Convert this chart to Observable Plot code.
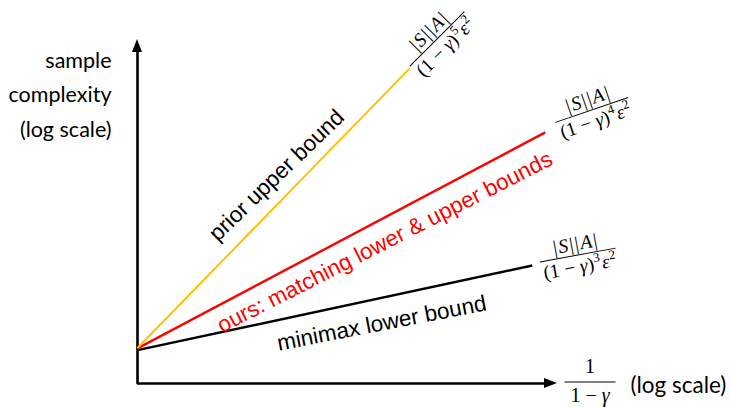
<!DOCTYPE html>
<html><head><meta charset="utf-8">
<script src="https://cdn.jsdelivr.net/npm/d3@7"></script>
<script src="https://cdn.jsdelivr.net/npm/@observablehq/plot@0.6"></script>
<style>body{margin:0;background:#fff}</style>
</head><body><div id="chart"></div>
<script>
// ---- data ----
const series = ["minimax lower bound", "ours: matching lower & upper bounds", "prior upper bound"];
const startX = [0, 0, 0];
const startY = [0.97, 1.02, 1.03];
const endX = [9.4, 9.71, 6.48];
const endY = [3.43, 7.3, 9.16];
const exponents = ["3", "4", "5"];
const labelAt = [0.606, 0.582, 0.566];
const xDomain = [0, 10];
const yDomain = [0, 10];
const yLabelText = "sample\ncomplexity\n(log scale)";
const xLabelText = "(log scale)";

// ---- styles ----
const colors = ["#000000", "#ff0000", "#ffc000"];
const widths = [2.4, 2.4, 2];
const textRot = [-11, -27, -44];
const textDx = [5, 10, -15];
const textDy = [24.5, 19.5, -14.5];
const fracRot = [-10.3, -18.9, -45];
const fracDx = [46, 47, 28];
const fracDy = [-10, -22, -29];
const serif = "'Liberation Serif', 'DejaVu Serif', serif";
const sans = "'Liberation Sans', Arial, sans-serif";
const axisSans = "Lato, 'Open Sans', sans-serif";

function fraction(g, num, den, len, numY, denY, size) {
  const n = g.append("text").attr("text-anchor", "middle").attr("y", numY)
    .attr("font-family", serif).attr("font-size", size);
  num(n);
  g.append("line").attr("x1", -len/2).attr("x2", len/2).attr("stroke", "#000").attr("stroke-width", 1);
  const d = g.append("text").attr("text-anchor", "middle").attr("y", denY)
    .attr("font-family", serif).attr("font-size", size);
  den(d);
}
function fracMark(i) {
  return (index, scales) => {
    const cx = scales.x(endX[i]) + fracDx[i], cy = scales.y(endY[i]) + fracDy[i];
    const g = d3.create("svg:g").attr("transform", `translate(${cx},${cy}) rotate(${fracRot[i]})`);
    fraction(g,
      t => { t.attr("letter-spacing", 1.5);
             t.append("tspan").text("|"); t.append("tspan").attr("font-style","italic").text("S");
             t.append("tspan").text("||"); t.append("tspan").attr("font-style","italic").text("A");
             t.append("tspan").text("|"); },
      t => { t.append("tspan").text("(1 − ");
             t.append("tspan").attr("font-style","italic").text("γ");
             t.append("tspan").text(")");
             t.append("tspan").attr("dy", -8).attr("dx", 0.5).attr("font-size", 13).text(exponents[i]);
             t.append("tspan").attr("dy", 8).attr("dx", 1).attr("font-style","italic").text("ε");
             t.append("tspan").attr("dy", -8).attr("dx", 0.5).attr("font-size", 13).text("2"); },
      77, -5, 18, 19.5);
    return g.node();
  };
}
const xFracMark = (index, scales) => {
  const cx = scales.x(xDomain[1]) + 33, cy = scales.y(yDomain[0]) - 1;
  const g = d3.create("svg:g").attr("transform", `translate(${cx},${cy})`);
  fraction(g,
    t => t.text("1"),
    t => { t.append("tspan").text("1 − "); t.append("tspan").attr("font-style","italic").text("γ"); },
    51, -9, 20, 20);
  return g.node();
};
const arrowHeads = (index, scales) => {
  const x0 = scales.x(xDomain[0]), y0 = scales.y(yDomain[0]);
  const xt = scales.x(xDomain[1]), yt = scales.y(yDomain[1]);
  const g = d3.create("svg:g").attr("fill", "#000");
  g.append("path").attr("d", `M${x0},${yt}L${x0-5},${yt+13}L${x0+5},${yt+13}Z`);
  g.append("path").attr("d", `M${xt},${y0}L${xt-13},${y0-5}L${xt-13},${y0+5}Z`);
  return g.node();
};

const marks = [
  Plot.line([[xDomain[0], yDomain[1] - 0.3], [xDomain[0], yDomain[0]], [xDomain[1] - 0.25, yDomain[0]]],
    {stroke: "#000", strokeWidth: 2.6, strokeLinejoin: "miter"}),
  arrowHeads
];
series.forEach((s, i) => {
  marks.push(Plot.link([i], {x1: startX[i], y1: startY[i], x2: endX[i], y2: endY[i],
    stroke: colors[i], strokeWidth: widths[i]}));
  marks.push(Plot.text([i], {
    x: d => startX[d] + labelAt[d] * (endX[d] - startX[d]),
    y: d => startY[d] + labelAt[d] * (endY[d] - startY[d]),
    text: d => series[d], rotate: textRot[i], dx: textDx[i], dy: textDy[i],
    fill: i === 1 ? colors[1] : "#000", fontSize: 22.5, fontFamily: sans
  }));
  marks.push(fracMark(i));
});
marks.push(xFracMark);
marks.push(Plot.text([xLabelText], {x: xDomain[1], y: yDomain[0], text: d => d, textAnchor: "start",
  dx: 73, dy: 2, fontSize: 22.5, fontFamily: axisSans, fill: "#000"}));
marks.push(Plot.text([yLabelText], {x: xDomain[0], y: yDomain[1], text: d => d, textAnchor: "end",
  lineAnchor: "top", lineHeight: 1.6, dx: -26, dy: 4, fontSize: 21.5, fontFamily: axisSans, fill: "#000"}));

const chart = Plot.plot({
  width: 730, height: 407,
  marginLeft: 137, marginRight: 173, marginTop: 39, marginBottom: 24,
  x: {domain: xDomain, axis: null},
  y: {domain: yDomain, axis: null},
  style: {background: "#fff", overflow: "visible"},
  marks
});
document.getElementById("chart").appendChild(chart);
</script></body></html>
